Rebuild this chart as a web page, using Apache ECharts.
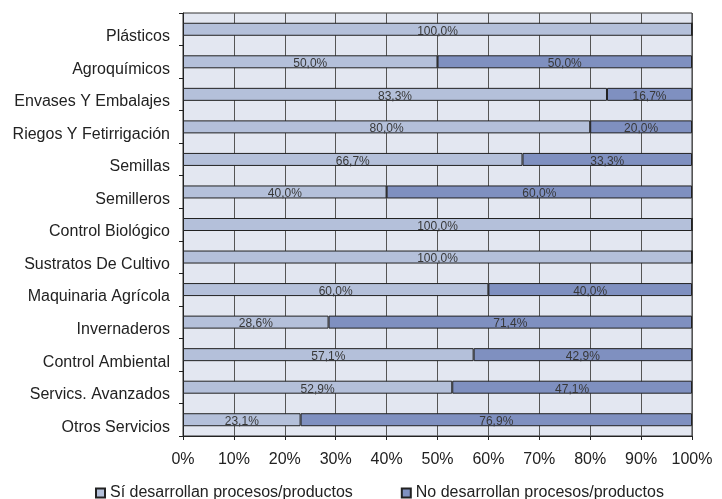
<!DOCTYPE html>
<html>
<head>
<meta charset="utf-8">
<script src="https://cdn.jsdelivr.net/npm/echarts@6/dist/echarts.min.js"></script>
<style>
  html, body { margin: 0; padding: 0; background: #fff; }
  #chart { width: 722px; height: 499px; }
</style>
</head>
<body>
<div id="chart"></div>
<script>
// Sectores y porcentaje de empresas que desarrollan procesos/productos
const categories = [
  'Plásticos', 'Agroquímicos', 'Envases Y Embalajes', 'Riegos Y Fetirrigación',
  'Semillas', 'Semilleros', 'Control Biológico', 'Sustratos De Cultivo',
  'Maquinaria Agrícola', 'Invernaderos', 'Control Ambiental',
  'Servics. Avanzados', 'Otros Servicios'
];
const siDesarrollan = [100, 50, 83.3, 80, 66.7, 40, 100, 100, 60, 28.6, 57.1, 52.9, 23.1];
const noDesarrollan = [0, 50, 16.7, 20, 33.3, 60, 0, 0, 40, 71.4, 42.9, 47.1, 76.9];
const seriesNames = ['Sí desarrollan procesos/productos', 'No desarrollan procesos/productos'];

const FONT = '"Liberation Sans", Arial, sans-serif';

function pctLabel(p) {
  if (!p.value) return '';
  return p.value.toFixed(1).replace('.', ',') + '%';
}

function barSeries(name, data, color) {
  return {
    name: name,
    type: 'bar',
    stack: 'total',
    data: data,
    barWidth: 13,
    itemStyle: { color: color, borderColor: '#222', borderWidth: 1 },
    label: {
      show: true,
      position: 'inside',
      formatter: pctLabel,
      fontFamily: FONT,
      fontSize: 12,
      color: '#383838',
      offset: [0, 2]
    }
  };
}

const chart = echarts.init(document.getElementById('chart'), null, { renderer: 'canvas' });
chart.setOption({
  animation: false,
  backgroundColor: '#ffffff',
  grid: {
    left: 183, right: 30, top: 13, bottom: 63,
    show: true,
    backgroundColor: '#e3e7f1',
    borderColor: '#333',
    borderWidth: 1
  },
  legend: {
    left: 90,
    top: 480,
    itemGap: 48,
    itemWidth: 9,
    itemHeight: 9,
    icon: 'rect',
    textStyle: { fontFamily: FONT, fontSize: 16, color: '#222' },
    data: seriesNames
  },
  xAxis: {
    type: 'value',
    min: 0,
    max: 100,
    interval: 10,
    axisLine: { show: true, lineStyle: { color: '#222', width: 1 } },
    axisTick: { show: true, length: 4, lineStyle: { color: '#222' } },
    axisLabel: {
      formatter: '{value}%',
      fontFamily: FONT,
      fontSize: 16,
      color: '#222',
      margin: 16
    },
    splitLine: { show: true, lineStyle: { color: '#555', width: 1 } }
  },
  yAxis: {
    type: 'category',
    inverse: true,
    data: categories,
    axisLine: { show: true, lineStyle: { color: '#222', width: 1 } },
    axisTick: { show: true, length: 4, lineStyle: { color: '#222' } },
    axisLabel: {
      fontFamily: FONT,
      fontSize: 16,
      lineHeight: 15,
      verticalAlign: 'top',
      color: '#222',
      margin: 13
    },
    splitLine: { show: false }
  },
  series: [
    barSeries(seriesNames[0], siDesarrollan, '#b4c0da'),
    barSeries(seriesNames[1], noDesarrollan, '#7f90c0')
  ]
});
</script>
</body>
</html>
